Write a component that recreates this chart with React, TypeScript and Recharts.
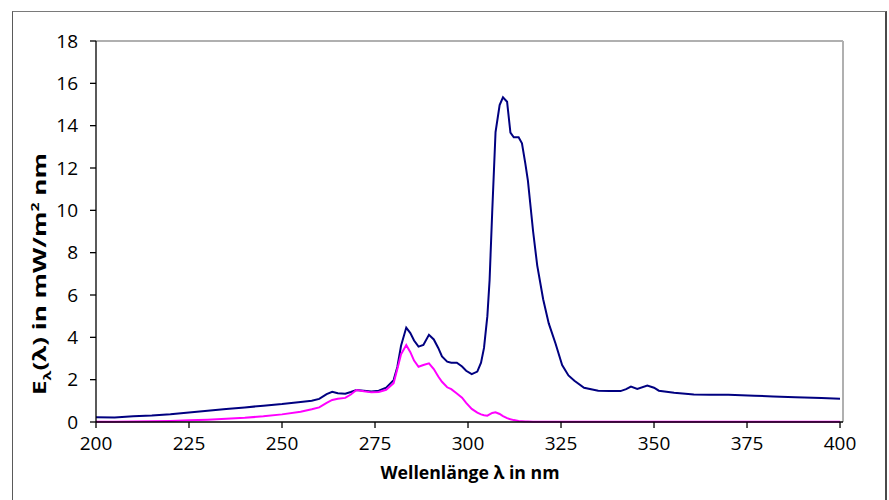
import React from "react";
import {
  LineChart,
  Line,
  XAxis,
  YAxis,
  ReferenceLine,
  Label,
} from "recharts";

const FONT = '"Open Sans", "Noto Sans", sans-serif';

// Wellenlänge in nm
const WAVELENGTH = [
  200, 205, 210, 215, 220, 225, 230, 235, 240, 245, 250, 255, 258, 260, 262,
  263.5, 265, 267, 268.5, 270, 272, 274, 276, 278, 280, 281, 282, 283.4, 284.5,
  285.5, 286.7, 288, 289.5, 290.8, 292, 293, 294.4, 295.5, 297, 298.4, 299.5,
  301, 302.5, 303.5, 304.3, 305.2, 305.8, 306.5, 307.4, 308.5, 309.4, 310.5,
  311.4, 312.3, 313.6, 314.5, 315.4, 316.1, 317.5, 318.6, 320.2, 321.7, 323.5,
  325.3, 327, 328.6, 331.2, 335, 338, 341, 342.5, 343.8, 345.5, 348.2, 350,
  351.3, 355.4, 360.7, 365, 370, 377, 382, 388, 395, 400,
];

// spektrale Bestrahlungsstärke in mW/m² nm
const E_SPECTRAL = [
  0.22, 0.21, 0.27, 0.31, 0.37, 0.45, 0.53, 0.61, 0.69, 0.77, 0.85, 0.95, 1.0,
  1.09, 1.32, 1.43, 1.36, 1.34, 1.42, 1.51, 1.48, 1.44, 1.48, 1.62, 1.98, 2.6,
  3.6, 4.46, 4.2, 3.85, 3.56, 3.64, 4.12, 3.9, 3.5, 3.1, 2.85, 2.8, 2.8, 2.62,
  2.42, 2.26, 2.38, 2.8, 3.5, 5.0, 6.7, 9.9, 13.7, 14.97, 15.34, 15.13, 13.67,
  13.45, 13.45, 13.17, 12.22, 11.4, 9.0, 7.4, 5.8, 4.66, 3.72, 2.69, 2.2, 1.95,
  1.62, 1.48, 1.46, 1.46, 1.55, 1.67, 1.56, 1.72, 1.62, 1.48, 1.38, 1.3, 1.29,
  1.29, 1.24, 1.21, 1.17, 1.13, 1.1,
];

// erythemgewichtete Bestrahlungsstärke in mW/m² nm
const E_ERYTHEM = [
  0.01, 0.01, 0.02, 0.03, 0.05, 0.08, 0.11, 0.15, 0.2, 0.27, 0.36, 0.48, 0.6,
  0.69, 0.9, 1.04, 1.1, 1.14, 1.3, 1.51, 1.45, 1.4, 1.42, 1.52, 1.83, 2.5, 3.2,
  3.64, 3.3, 2.9, 2.61, 2.69, 2.77, 2.5, 2.15, 1.9, 1.64, 1.55, 1.35, 1.15, 0.9,
  0.62, 0.44, 0.36, 0.32, 0.3, 0.36, 0.43, 0.46, 0.38, 0.28, 0.18, 0.13, 0.09,
  0.05, 0.04, 0.02, 0.02, 0.01, 0.01, 0.01, 0.01, 0.01, 0.01, 0.01, 0.01, 0.01,
  0.01, 0.01, 0.01, 0.01, 0.01, 0.01, 0.01, 0.01, 0.01, 0.01, 0.01, 0.01, 0.01,
  0.01, 0.01, 0.01, 0.01, 0.01,
];

const X_TICKS = [200, 225, 250, 275, 300, 325, 350, 375, 400];
const Y_TICKS = [0, 2, 4, 6, 8, 10, 12, 14, 16, 18];

const X_MAX = 400.8;

const data = WAVELENGTH.map((w, i) => ({
  w,
  spectral: E_SPECTRAL[i],
  erythem: E_ERYTHEM[i],
}));

const tickStyle = { fontSize: 19, fill: "#000", fontFamily: FONT };

function YTitle() {
  return (
    <text
      transform="translate(46, 274) rotate(-90)"
      textAnchor="middle"
      fontFamily={FONT}
      fontWeight={700}
      fontSize={18}
      fill="#000"
      textLength={242}
      lengthAdjust="spacingAndGlyphs"
    >
      E
      <tspan fontSize={11} dy={5}>λ</tspan>
      <tspan dy={-5}>(λ) in mW/m</tspan>
      <tspan fontSize={11} dy={-7}>2</tspan>
      <tspan dy={7}> nm</tspan>
    </text>
  );
}

function XTitle() {
  return (
    <text
      x={470}
      y={479}
      textAnchor="middle"
      fontFamily={FONT}
      fontWeight={700}
      fontSize={18}
      fill="#000"
      textLength={179}
      lengthAdjust="spacingAndGlyphs"
    >
      Wellenlänge λ in nm
    </text>
  );
}

export default function App() {
  return (
    <div
      style={{
        position: "absolute",
        left: 0,
        top: 0,
        width: 889,
        height: 500,
        overflow: "hidden",
        background: "#fff",
      }}
    >
      <div
        style={{
          position: "absolute",
          left: 12,
          top: 11,
          width: 872,
          height: 600,
          borderLeft: "1px solid #5a5a5a",
          borderTop: "1px solid #7a7a7a",
          borderRight: "2px solid #4a4a4a",
        }}
      />
      <div style={{ position: "absolute", left: 0, top: 0 }}>
        <LineChart
          width={889}
          height={500}
          data={data}
          margin={{ top: 41, right: 46, bottom: 0, left: 0 }}
        >
          <ReferenceLine y={18} stroke="#b0b0b0" strokeWidth={2} />
          <ReferenceLine x={X_MAX} stroke="#b0b0b0" strokeWidth={2} />
          <XAxis
            dataKey="w"
            type="number"
            domain={[200, X_MAX]}
            ticks={X_TICKS}
            allowDataOverflow
            height={78}
            tickSize={6}
            tickMargin={9}
            tick={tickStyle}
            axisLine={{ stroke: "#000", strokeWidth: 1.3 }}
            tickLine={{ stroke: "#000", strokeWidth: 1.3 }}
          >
            <Label content={() => <XTitle />} />
          </XAxis>
          <YAxis
            type="number"
            domain={[0, 18]}
            ticks={Y_TICKS}
            width={96}
            tickSize={6}
            tickMargin={12}
            tick={tickStyle}
            axisLine={{ stroke: "#000", strokeWidth: 1.3 }}
            tickLine={{ stroke: "#000", strokeWidth: 1.3 }}
          >
            <Label content={() => <YTitle />} />
          </YAxis>
          <Line
            dataKey="spectral"
            name="spektral"
            type="linear"
            stroke="#000080"
            strokeWidth={2}
            dot={false}
            isAnimationActive={false}
          />
          <Line
            dataKey="erythem"
            name="erythemgewichtet"
            type="linear"
            stroke="#ff00ff"
            strokeWidth={2}
            dot={false}
            isAnimationActive={false}
          />
        </LineChart>
      </div>
    </div>
  );
}
